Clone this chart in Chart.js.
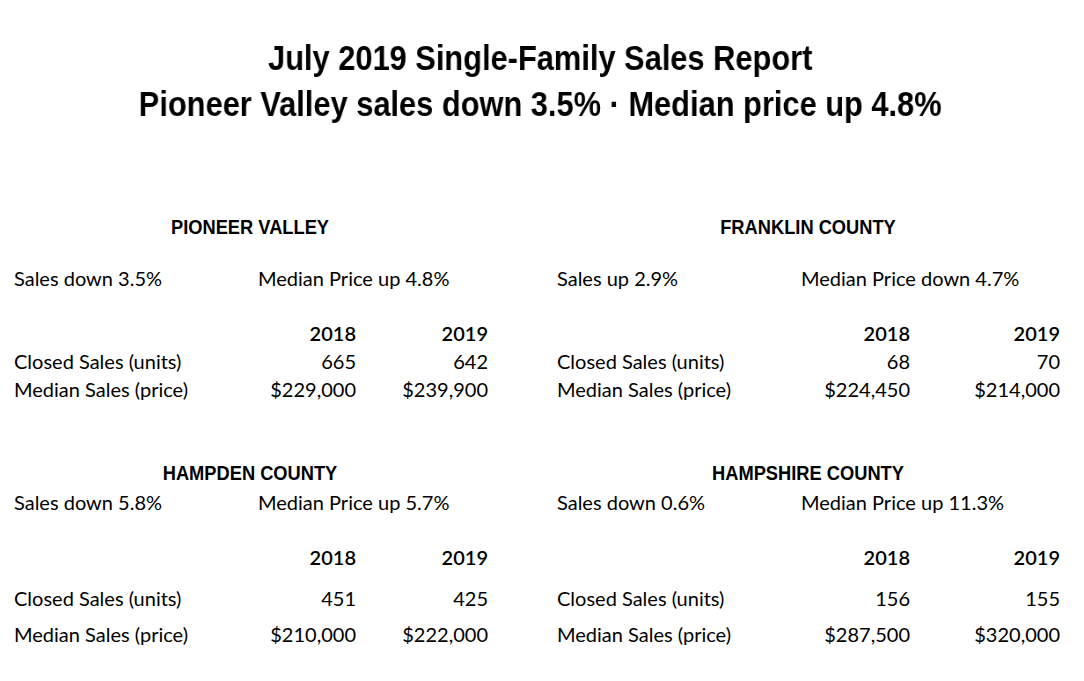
<!DOCTYPE html>
<html><head><meta charset="utf-8">
<script src="https://cdn.jsdelivr.net/npm/chart.js@4"></script>
<style>
body{margin:0;background:#fff;width:1084px;height:681px;overflow:hidden;position:relative;font-family:Lato,"Open Sans",sans-serif;color:#000}
#c{position:absolute;left:0;top:0}
.t{position:absolute;font-size:20px;line-height:1;white-space:nowrap;transform:translateY(-50%)}
.h{font-family:"Liberation Sans Narrow","Liberation Sans",sans-serif;font-weight:bold;font-size:21px;transform:translate(-50%,-50%) scaleX(0.87)}
.r{transform:translate(-100%,-50%)}
.y{font-weight:600}
</style></head><body>
<div id="wrap" style="position:absolute;left:0;top:0;width:1084px;height:160px;transform:scaleX(0.88);transform-origin:527px 0"><canvas id="c"></canvas></div>
<script>
// Report data
const titleLines = ['July 2019 Single-Family Sales Report', 'Pioneer Valley sales down 3.5% · Median price up 4.8%'];
const regions = ['PIONEER VALLEY', 'FRANKLIN COUNTY', 'HAMPDEN COUNTY', 'HAMPSHIRE COUNTY'];
const salesNotes = ['Sales down 3.5%', 'Sales up 2.9%', 'Sales down 5.8%', 'Sales down 0.6%'];
const priceNotes = ['Median Price up 4.8%', 'Median Price down 4.7%', 'Median Price up 5.7%', 'Median Price up 11.3%'];
const years = ['2018', '2019'];
const rowLabels = ['Closed Sales (units)', 'Median Sales (price)'];
const closedSales = [[665, 642], [68, 70], [451, 425], [156, 155]];
const medianPrice = [[229000, 239900], [224450, 214000], [210000, 222000], [287500, 320000]];

// title drawn by Chart.js
new Chart(document.getElementById('c'), {
  type: 'bar',
  data: { labels: [], datasets: [] },
  options: {
    responsive: true, maintainAspectRatio: false, animation: false,
    layout: { padding: { top: 28 } },
    scales: { x: { display: false }, y: { display: false } },
    plugins: {
      legend: { display: false }, tooltip: { enabled: false },
      title: {
        display: true, text: titleLines, color: '#000',
        font: { family: '"Liberation Sans Narrow","Liberation Sans",sans-serif', size: 35, weight: 'bold', lineHeight: 1.3 }
      }
    }
  }
});

// panel layout
const panels = [
  { lx: 14, mx: 258, c1: 356, c2: 488, hx: 250, y: [226, 278, 333, 361, 389] },
  { lx: 557, mx: 801, c1: 910, c2: 1060, hx: 808, y: [226, 278, 333, 361, 389] },
  { lx: 14, mx: 258, c1: 356, c2: 488, hx: 250, y: [472, 502, 557, 598, 634] },
  { lx: 557, mx: 801, c1: 910, c2: 1060, hx: 808, y: [472, 502, 557, 598, 634] }
];
const money = v => '$' + v.toLocaleString('en-US');
function put(txt, x, y, cls) {
  const d = document.createElement('div');
  d.className = 't ' + (cls || '');
  d.textContent = txt;
  d.style.left = x + 'px'; d.style.top = y + 'px';
  document.body.appendChild(d);
}
panels.forEach((p, i) => {
  put(regions[i], p.hx, p.y[0], 'h');
  put(salesNotes[i], p.lx, p.y[1]);
  put(priceNotes[i], p.mx, p.y[1]);
  put(years[0], p.c1, p.y[2], 'r y');
  put(years[1], p.c2, p.y[2], 'r y');
  put(rowLabels[0], p.lx, p.y[3]);
  put(String(closedSales[i][0]), p.c1, p.y[3], 'r');
  put(String(closedSales[i][1]), p.c2, p.y[3], 'r');
  put(rowLabels[1], p.lx, p.y[4]);
  put(money(medianPrice[i][0]), p.c1, p.y[4], 'r');
  put(money(medianPrice[i][1]), p.c2, p.y[4], 'r');
});
</script>
</body></html>
